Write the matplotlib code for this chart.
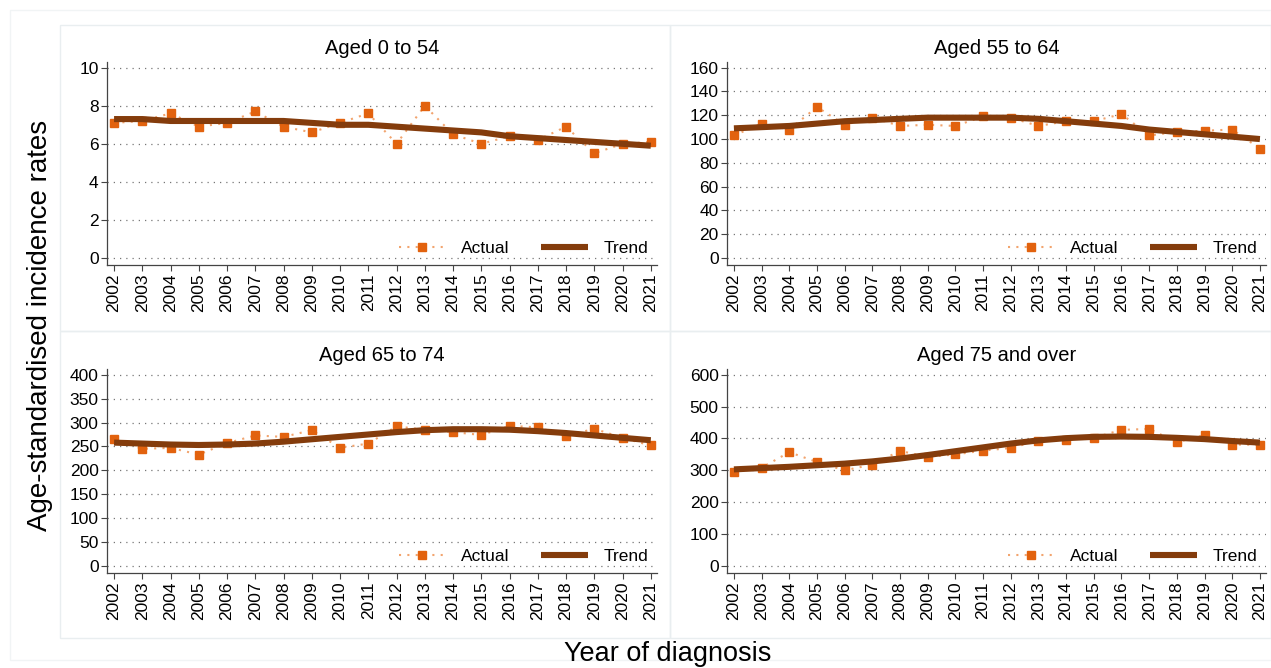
import numpy as np
import matplotlib.pyplot as plt
from matplotlib.patches import Rectangle

plt.rcParams['font.family'] = ['Liberation Sans', 'DejaVu Sans']

years = list(range(2002, 2022))

titles = ["Aged 0 to 54", "Aged 55 to 64", "Aged 65 to 74", "Aged 75 and over"]

actual_0_54 = [7.1, 7.2, 7.6, 6.9, 7.1, 7.7, 6.9, 6.6, 7.1, 7.6,
               6.0, 8.0, 6.5, 6.0, 6.4, 6.2, 6.9, 5.5, 6.0, 6.1]
trend_0_54 = [7.3, 7.3, 7.2, 7.2, 7.2, 7.2, 7.2, 7.1, 7.0, 7.0,
              6.9, 6.8, 6.7, 6.6, 6.4, 6.3, 6.2, 6.1, 6.0, 5.9]

actual_55_64 = [103, 113, 108, 127, 112, 118, 111, 112, 111, 119,
                118, 111, 115, 115, 121, 103, 106, 107, 108, 92]
trend_55_64 = [109, 110, 111, 113, 115, 116, 117, 118, 118, 118,
               118, 117, 115, 113, 111, 108, 106, 104, 102, 100]

actual_65_74 = [265, 245, 247, 233, 257, 273, 270, 284, 247, 256,
                292, 285, 280, 274, 293, 290, 272, 287, 268, 252]
trend_65_74 = [258, 256, 254, 253, 254, 256, 260, 265, 270, 275,
               280, 284, 286, 286, 285, 282, 278, 273, 268, 263]

actual_75 = [295, 308, 357, 326, 300, 318, 361, 342, 350, 362,
             370, 393, 395, 402, 427, 430, 388, 411, 381, 380]
trend_75 = [303, 307, 311, 316, 321, 328, 337, 348, 360, 372,
            384, 394, 401, 405, 406, 405, 402, 398, 392, 387]

y_ticks = [
    [0, 2, 4, 6, 8, 10],
    [0, 20, 40, 60, 80, 100, 120, 140, 160],
    [0, 50, 100, 150, 200, 250, 300, 350, 400],
    [0, 100, 200, 300, 400, 500, 600],
]

actuals = [actual_0_54, actual_55_64, actual_65_74, actual_75]
trends = [trend_0_54, trend_55_64, trend_65_74, trend_75]

COL_ACT = "#E2620E"
COL_DOT = "#F2A46E"
COL_TREND = "#843C0C"

W, H = 1271, 668
fig = plt.figure(figsize=(W / 100, H / 100), dpi=100)

# cadres des panneaux (pixels: x0, y0, x1, y1)
fig.patches.append(Rectangle((10 / W, 1 - 660 / H), 1261 / W, 650 / H,
                             transform=fig.transFigure, fill=False,
                             edgecolor="#f1f4f5", lw=1))
for x0, y0, x1, y1 in [(60, 25, 670, 331), (670, 25, 1271, 331),
                       (60, 331, 670, 638), (670, 331, 1271, 638)]:
    fig.patches.append(Rectangle((x0 / W, 1 - y1 / H), (x1 - x0) / W, (y1 - y0) / H,
                                 transform=fig.transFigure, fill=False,
                                 edgecolor="#e9eef0", lw=1))

boxes = [(107, 62, 657, 265), (727, 62, 1266, 265),
         (107, 369, 657, 573), (727, 369, 1266, 573)]

for i in range(4):
    x0, y0, x1, y1 = boxes[i]
    ax = fig.add_axes([x0 / W, 1 - y1 / H, (x1 - x0) / W, (y1 - y0) / H])
    top = y_ticks[i][-1]
    ax.set_ylim(-0.037 * top, 1.03 * top)
    ax.set_xlim(2001.75, 2021.22)
    ax.set_yticks(y_ticks[i])
    ax.set_xticks(years)
    ax.set_xticklabels([str(y) for y in years], rotation=90)
    ax.tick_params(labelsize=12.5, length=4, color="#444444", pad=2)
    for s in ["top", "right"]:
        ax.spines[s].set_visible(False)
    for s in ["left", "bottom"]:
        ax.spines[s].set_color("#444444")
        ax.spines[s].set_linewidth(0.9)
    ax.grid(axis="y", linestyle=(0, (1, 4)), color="#777777", linewidth=0.9)
    ax.set_axisbelow(True)

    ax.plot(years, actuals[i], linestyle=(0, (1, 3)), color=COL_DOT, lw=1.5,
            marker="s", markersize=5.3, markerfacecolor=COL_ACT,
            markeredgecolor=COL_ACT, label="Actual")
    ax.plot(years, trends[i], color=COL_TREND, lw=4.4, solid_capstyle="butt",
            label="Trend")
    ax.set_title(titles[i], fontsize=14.5, pad=6)
    ax.legend(loc="lower right", ncol=2, frameon=False, fontsize=12.5,
              handlelength=2.7, columnspacing=1.8, handletextpad=0.9,
              borderaxespad=0.1, bbox_to_anchor=(1.0, 0.0))

fig.text(40 / W, 1 - 325 / H, "Age-standardised incidence rates", rotation=90,
         ha="center", va="center", fontsize=20)
fig.text(668 / W, 1 - 654 / H, "Year of diagnosis", ha="center", va="center",
         fontsize=19.5)

fig.savefig("out.png", dpi=100, facecolor="white")
